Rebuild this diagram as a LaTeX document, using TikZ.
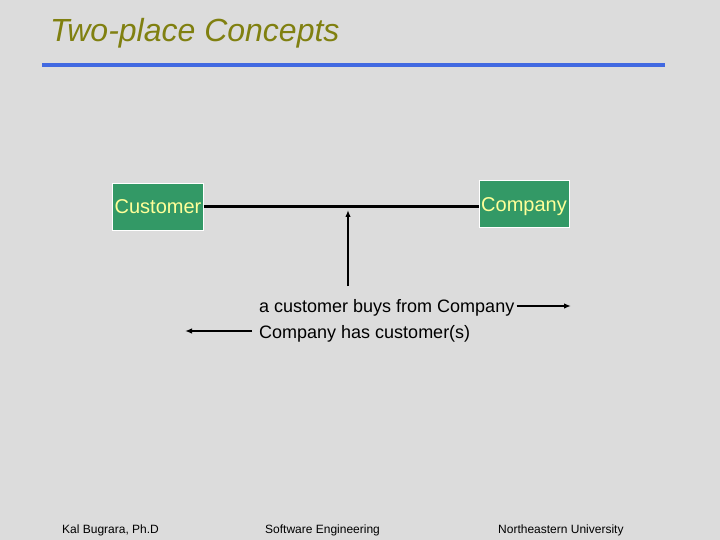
\documentclass[tikz,border=0pt]{standalone}
\usepackage{fontspec}
\setmainfont{Liberation Sans}
\usetikzlibrary{arrows.meta}
\definecolor{bggray}{RGB}{220,220,220}
\definecolor{titleolive}{RGB}{128,128,16}
\definecolor{ruleblue}{RGB}{65,105,225}
\definecolor{boxgreen}{RGB}{51,153,102}
\definecolor{boxtext}{RGB}{255,255,153}
\tikzset{
  conceptbox/.style={fill=boxgreen, draw=white, line width=0.8pt, text=boxtext,
    font=\fontsize{20}{20}\selectfont, minimum width=90pt, minimum height=47pt, inner xsep=2pt,
    text height=15pt, text depth=0pt},
  labeltext/.style={anchor=base west, font=\fontsize{18}{18}\selectfont, inner sep=0pt},
  footertext/.style={anchor=base west, font=\fontsize{12}{12}\selectfont, inner sep=0pt},
  assoc/.style={line width=3pt},
  pointer/.style={line width=1.8pt, -{Latex[length=7pt,width=5.5pt]}}
}
\begin{document}
\begin{tikzpicture}[x=1pt,y=-1pt]
\fill[bggray] (0,0) rectangle (720,540);
\useasboundingbox (0,0) rectangle (720,540);
\node[anchor=base west, inner sep=0pt, text=titleolive, font=\fontsize{32}{32}\selectfont\itshape] (title) at (50,42) {Two-place Concepts};
\draw[ruleblue, line width=4pt] (42,65) -- (665,65);
\node[conceptbox] (customer) at (158,206.5) {Customer};
\node[conceptbox] (company) at (524,204) {Company};
\draw[assoc] (customer.east) -- (customer.east -| company.west);
\coordinate (vstart) at (348,286);
\coordinate (vend) at (348,210);
\draw[pointer] (vstart) -- (vend);
\node[labeltext] (buys) at (259,312) {a customer buys from Company};
\node[labeltext] (has) at (259,338) {Company has customer(s)};
\coordinate (rend) at (571,306);
\coordinate (lend) at (185,331);
\draw[pointer] (buys.east |- rend) ++(2,0) -- (rend);
\draw[pointer] (252,331) -- (lend);
\node[footertext] (author) at (62,533) {Kal Bugrara, Ph.D};
\node[footertext] (course) at (265,533) {Software Engineering};
\node[footertext] (univ) at (498,533) {Northeastern University};
\end{tikzpicture}
\end{document}
